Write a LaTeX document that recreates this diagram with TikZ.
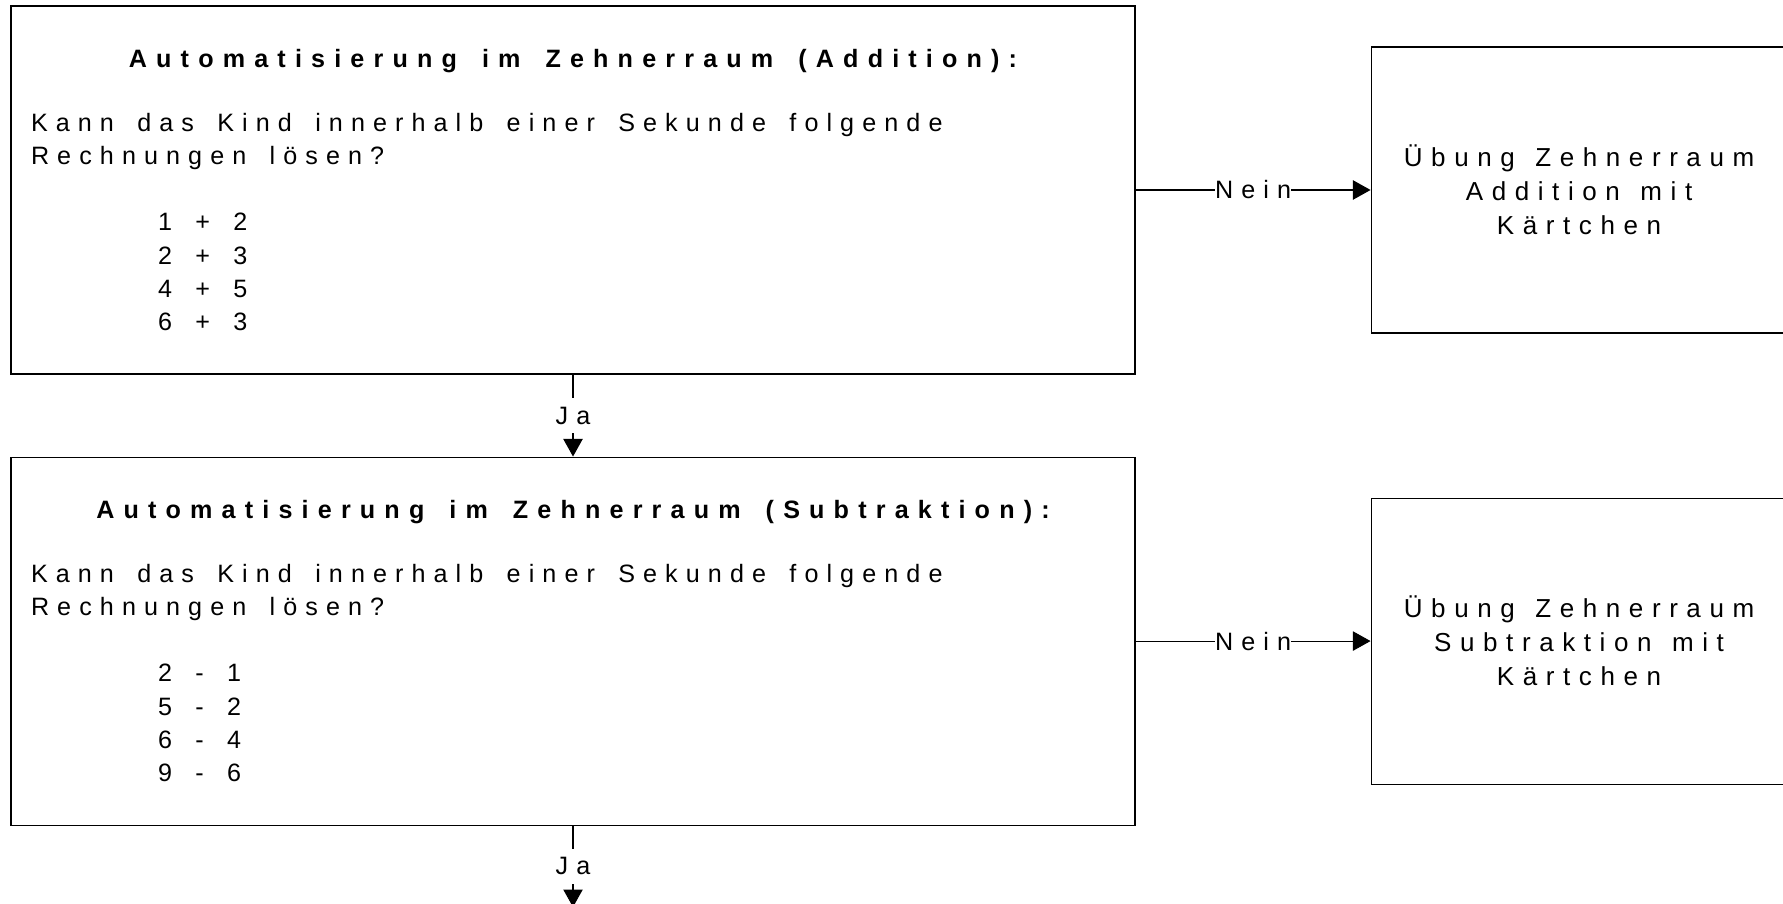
\documentclass[tikz,border=0pt]{standalone}
\usepackage{fontspec}
\setmainfont{Liberation Sans}[LetterSpace=32.2,WordSpace=1.55]
\newfontfamily\kartenfont{Liberation Sans}[LetterSpace=33,WordSpace=1.3]
\usetikzlibrary{positioning,arrows.meta}

\newcommand{\schrift}{\fontsize{14.3}{19}\selectfont}
\newcommand{\kartenschrift}{\fontsize{14.8}{19.3}\kartenfont}
\newcommand{\titel}{\bfseries\addfontfeature{LetterSpace=36.5}}

\tikzset{
	frage/.style={draw,line width=0.6pt,minimum width=22.48cm,minimum height=7.36cm,
		inner xsep=0.4cm,align=left},
	uebung/.style={draw,line width=0.6pt,minimum width=8.32cm,minimum height=5.72cm,
		align=center,font=\kartenschrift},
	pfeil/.style={line width=0.6pt,-{Triangle[length=10pt,width=11pt]}},
	antwort/.style={fill=white,inner xsep=0pt,inner ysep=5pt}
}

\begin{document}
\begin{tikzpicture} [font=\schrift]
			\useasboundingbox (0,0) rectangle (35.66,-18.08);
			
			\node[frage] (add) at (11.46,-3.80) {\makebox[21.68cm]{\titel Automatisierung im Zehnerraum (Addition):}\\[17.4pt]
				Kann das Kind innerhalb einer Sekunde folgende\\
				Rechnungen lösen?\\[18.6pt]
				\hspace*{2.54cm}1 + 2\\
				\hspace*{2.54cm}2 + 3\\
				\hspace*{2.54cm}4 + 5\\
				\hspace*{2.54cm}6 + 3};
			\node[uebung,right=4.7cm of add] (addk) {Übung Zehnerraum\\Addition mit\\Kärtchen};
			
			\node[frage,below=1.64cm of add] (sub) {\makebox[21.68cm]{\titel Automatisierung im Zehnerraum (Subtraktion):}\\[17.4pt]
				Kann das Kind innerhalb einer Sekunde folgende\\
				Rechnungen lösen?\\[18.6pt]
				\hspace*{2.54cm}2 - 1\\
				\hspace*{2.54cm}5 - 2\\
				\hspace*{2.54cm}6 - 4\\
				\hspace*{2.54cm}9 - 6};
			\node[uebung,right=4.7cm of sub] (subk) {Übung Zehnerraum\\Subtraktion mit\\Kärtchen};
			\coordinate[below=1.63cm of sub] (weiter);
			
			\draw[pfeil] (add) -- node[antwort] {Nein} (addk);
			\draw[pfeil] (sub) -- node[antwort] {Nein} (subk);
			\draw[pfeil] (add) -- node[antwort] {Ja} (sub);
			\draw[pfeil] (sub) -- node[antwort] {Ja} (weiter);
			\end{tikzpicture}
\end{document}
